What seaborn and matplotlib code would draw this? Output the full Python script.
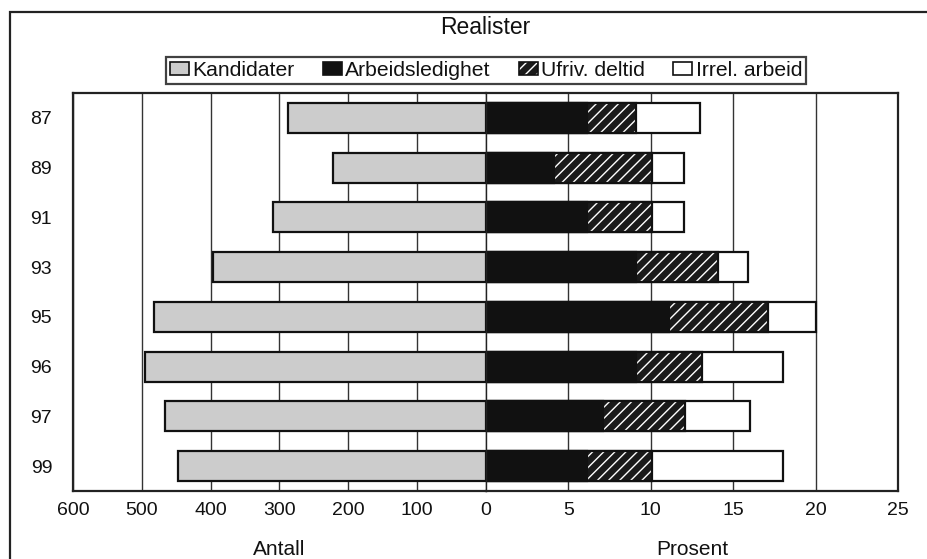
import matplotlib
matplotlib.use("Agg")
import matplotlib.pyplot as plt
import seaborn as sns
import pandas as pd
import numpy as np
from matplotlib.patches import Patch, Rectangle
from matplotlib.legend_handler import HandlerTuple

sns.set_theme(style="white")
plt.rcParams['font.family'] = ['Liberation Sans', 'DejaVu Sans']
plt.rcParams['hatch.linewidth'] = 1.0

# ---- data ----
years = ["87", "89", "91", "93", "95", "96", "97", "99"]
kandidater = [287, 222, 309, 396, 483, 495, 466, 447]
arbeidsledighet = [6.1, 4.1, 6.1, 9.1, 11.1, 9.1, 7.1, 6.1]
ufriv_deltid = [3.0, 6.0, 4.0, 5.0, 6.0, 4.0, 5.0, 4.0]
irrel_arbeid = [3.9, 1.9, 1.9, 1.8, 2.9, 4.9, 3.9, 7.9]
left_ticks = [600, 500, 400, 300, 200, 100, 0]
right_ticks = [5, 10, 15, 20, 25]

df = pd.DataFrame({
    "year": years,
    "kand": kandidater,
    "arb": arbeidsledighet,
    "ufr": ufriv_deltid,
    "irr": irrel_arbeid,
})
df["c_arb"] = df["arb"]
df["c_ufr"] = df["arb"] + df["ufr"]
df["c_irr"] = df["arb"] + df["ufr"] + df["irr"]

W, H = 928, 559
fig = plt.figure(figsize=(W / 100, H / 100), dpi=100)
fig.patch.set_facecolor("white")

x0, x_mid, x1 = 73, 486, 898
y_top, y_bot = 93, 491
axL = fig.add_axes([x0 / W, (H - y_bot) / H, (x_mid - x0) / W, (y_bot - y_top) / H])
axR = fig.add_axes([x_mid / W, (H - y_bot) / H, (x1 - x_mid) / W, (y_bot - y_top) / H])

bw = 0.6
edge_lw = 1.6
tick_fs = 14

# Left: Kandidater
sns.barplot(data=df, x="kand", y="year", order=years, orient="h", ax=axL,
            color="#cccccc", width=bw, edgecolor="#111111", linewidth=edge_lw,
            saturation=1)
axL.set_xlim(600, 0)

# Right: stacked percentages (draw cumulative totals back to front)
sns.barplot(data=df, x="c_irr", y="year", order=years, orient="h", ax=axR,
            color="white", width=bw, edgecolor="#111111", linewidth=edge_lw,
            saturation=1)
sns.barplot(data=df, x="c_ufr", y="year", order=years, orient="h", ax=axR,
            color="#1a1a1a", width=bw, edgecolor="white", linewidth=0,
            saturation=1, hatch="///")
sns.barplot(data=df, x="c_ufr", y="year", order=years, orient="h", ax=axR,
            fill=False, width=bw, edgecolor="#111111", linewidth=edge_lw)
sns.barplot(data=df, x="c_arb", y="year", order=years, orient="h", ax=axR,
            color="#111111", width=bw, edgecolor="#111111", linewidth=edge_lw,
            saturation=1)
axR.set_xlim(0, 25)

for ax in (axL, axR):
    ax.set_ylim(7.5, -0.5)
    ax.set_xlabel("")
    ax.set_ylabel("")
    ax.set_axisbelow(True)
    ax.grid(axis="x", color="#333333", linewidth=1.0)
    ax.grid(axis="y", visible=False)
    ax.tick_params(length=0, labelsize=tick_fs, colors="#111111", pad=8)
    for s in ax.spines.values():
        s.set_color("#222222")
        s.set_linewidth(1.6)

axL.set_xticks(left_ticks)
axL.set_xticklabels([str(t) for t in left_ticks])
axL.tick_params(axis="y", pad=15)
axL.set_yticklabels(years, fontsize=tick_fs)
axL.spines["right"].set_visible(False)

axR.set_xticks(right_ticks)
axR.set_xticklabels([str(t) for t in right_ticks])
axR.set_yticks([])
axR.spines["left"].set_linewidth(1.0)

axL.set_xlabel("Antall", fontsize=15, labelpad=15, color="#111111")
axR.set_xlabel("Prosent", fontsize=15, labelpad=15, color="#111111")

# Title
fig.text((x_mid - 1) / W, 1 - 28 / H, "Realister", ha="center", va="center",
         fontsize=16.5, color="#111111")

# Legend
h_k = Patch(facecolor="#cccccc", edgecolor="#111111", linewidth=1.2)
h_a = Patch(facecolor="#111111", edgecolor="#111111", linewidth=1.2)
h_u = (Patch(facecolor="#1a1a1a", edgecolor="white", hatch="///", linewidth=0),
       Patch(facecolor="none", edgecolor="#111111", linewidth=1.2))
h_i = Patch(facecolor="white", edgecolor="#111111", linewidth=1.2)
leg = fig.legend([h_k, h_a, h_u, h_i],
                 ["Kandidater", "Arbeidsledighet", "Ufriv. deltid", "Irrel. arbeid"],
                 ncol=4, loc="center", bbox_to_anchor=(486 / W, 1 - 70.5 / H),
                 frameon=True, fancybox=False, fontsize=15.2,
                 handlelength=0.9, handleheight=0.6, handletextpad=0.15,
                 columnspacing=1.35, borderpad=0.2,
                 handler_map={tuple: HandlerTuple(ndivide=1)})
leg.get_frame().set_edgecolor("#111111")
leg.get_frame().set_linewidth(1.6)
for t in leg.get_texts():
    t.set_color("#111111")

# Outer frame
fig.add_artist(Rectangle((10 / W, -0.05), 1.1, 1.05 - 12 / H, transform=fig.transFigure,
                         fill=False, edgecolor="#222222", linewidth=1.6, clip_on=False))

fig.savefig("out.png", dpi=100)
